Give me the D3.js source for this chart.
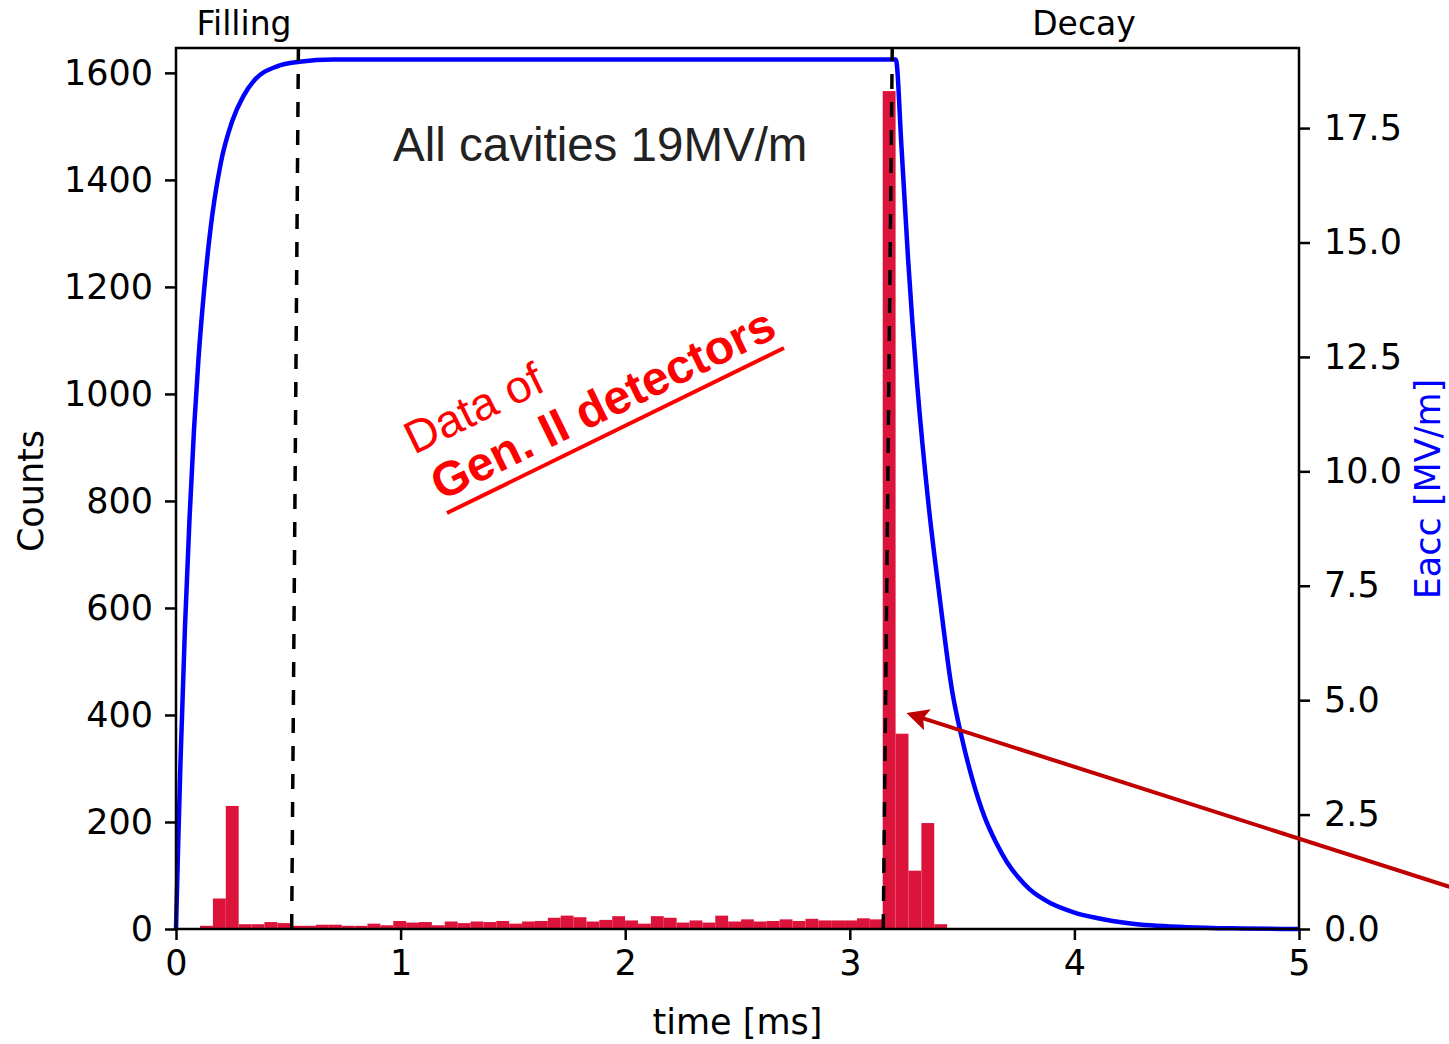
<!DOCTYPE html>
<html>
<head>
<meta charset="utf-8">
<script src="https://cdn.jsdelivr.net/npm/d3@7"></script>
<style>
  body { margin:0; background:#fff; }
  svg { display:block; }
</style>
</head>
<body>
<div id="chart"></div>
<script>
// Histogram counts (Gen. II detectors), equal-width bins starting at binStart
const binStart = 0.107;   // ms
const binWidth = 0.05735; // ms
const counts = [6,57,230,9,9,13,11,6,6,8,8,6,6,10,7,15,12,13,7,14,11,14,13,15,10,14,15,21,25,22,
  14,17,24,16,10,24,21,12,16,12,25,14,18,14,15,18,15,19,16,16,16,20,18,1566,365,109,198,9];

// Eacc curve: time [ms] / field [MV/m]
const eaccT = [0,0.01,0.02,0.04,0.06,0.08,0.10,0.125,0.15,0.20,0.25,0.30,0.35,0.45,0.55,0.70,1.5,2.5,3.205,
  3.23,3.26,3.30,3.35,3.40,3.455,3.50,3.55,3.60,3.65,3.70,3.75,3.80,3.90,4.0,4.1,4.25,4.5,4.75,5.0];
const eaccV = [0,1.9,3.65,6.6,8.95,10.9,12.45,13.95,15.15,16.75,17.65,18.2,18.55,18.85,18.95,19.0,19.0,19.0,19.0,
  17.1,14.6,11.9,9.3,7.25,5.22,4.15,3.2,2.45,1.9,1.46,1.13,0.87,0.55,0.36,0.24,0.12,0.04,0.012,0.0];

const leftTicks = [0,200,400,600,800,1000,1200,1400,1600];
const rightTicks = [0,2.5,5,7.5,10,12.5,15,17.5];
const xTicks = [0,1,2,3,4,5];

// dashed phase markers (bottom t, top t) - drawn slightly slanted as in the figure
const phaseLines = [[0.515,0.545],[3.149,3.189]];
const arrowFrom = [5.67, 79], arrowTo = [3.271, 401];

const W = 1449, H = 1044;
const m = {left:176, right:150, top:48, bottom:115};

const svg = d3.select('#chart').append('svg').attr('width',W).attr('height',H);

const x = d3.scaleLinear().domain([0,5]).range([m.left, W-m.right]);
const y = d3.scaleLinear().domain([0,1646.5]).range([H-m.bottom, m.top]);
const y2 = d3.scaleLinear().domain([0,19.25]).range([H-m.bottom, m.top]);

const font = 'DejaVu Sans, sans-serif';

// histogram bars
svg.append('g').selectAll('rect').data(counts).join('rect')
  .attr('x', (d,i)=>x(binStart + i*binWidth))
  .attr('width', (d,i)=>x(binStart + (i+1)*binWidth) - x(binStart + i*binWidth))
  .attr('y', d=>y(d))
  .attr('height', d=>y(0)-y(d))
  .attr('fill','#dc143c');

// Eacc curve
const pts = eaccT.map((t,i)=>[t, eaccV[i]]);
svg.append('path').datum(pts)
  .attr('d', d3.line().x(d=>x(d[0])).y(d=>y2(d[1])).curve(d3.curveMonotoneX))
  .attr('fill','none').attr('stroke','#0000ff').attr('stroke-width',4.5);

// phase lines
svg.append('g').selectAll('line').data(phaseLines).join('line')
  .attr('x1', d=>x(d[0])).attr('y1', y(0))
  .attr('x2', d=>x(d[1])).attr('y2', m.top)
  .attr('stroke','#000').attr('stroke-width',3.5).attr('stroke-dasharray','15,13');

// frame
svg.append('rect').attr('x',m.left).attr('y',m.top)
  .attr('width', W-m.right-m.left).attr('height', H-m.bottom-m.top)
  .attr('fill','none').attr('stroke','#000').attr('stroke-width',2.5);

// axes
function styleAxis(g){
  g.select('.domain').remove();
  g.selectAll('.tick line').attr('stroke','#000').attr('stroke-width',2.5);
  g.selectAll('.tick text').attr('font-family',font).attr('font-size',35).attr('fill','#000');
}
svg.append('g').attr('transform',`translate(${m.left},0)`)
  .call(d3.axisLeft(y).tickValues(leftTicks).tickSize(11).tickPadding(12).tickFormat(d3.format('d')))
  .call(styleAxis);
svg.append('g').attr('transform',`translate(${W-m.right},0)`)
  .call(d3.axisRight(y2).tickValues(rightTicks).tickSize(11).tickPadding(14).tickFormat(d3.format('.1f')))
  .call(styleAxis);
svg.append('g').attr('transform',`translate(0,${H-m.bottom})`)
  .call(d3.axisBottom(x).tickValues(xTicks).tickSize(11).tickPadding(10).tickFormat(d3.format('d')))
  .call(styleAxis);

// axis labels
svg.append('text').attr('x', x(2.5)).attr('y', 1034).attr('text-anchor','middle')
  .attr('font-family',font).attr('font-size',35).text('time [ms]');
svg.append('text').attr('transform','translate(43,491) rotate(-90)').attr('text-anchor','middle')
  .attr('font-family',font).attr('font-size',35).text('Counts');
svg.append('text').attr('transform','translate(1440,489) rotate(-90)').attr('text-anchor','middle')
  .attr('font-family',font).attr('font-size',35).attr('fill','#0000ff').text('Eacc [MV/m]');

// phase titles
svg.append('text').attr('x',244).attr('y',35).attr('text-anchor','middle')
  .attr('font-family',font).attr('font-size',33).text('Filling');
svg.append('text').attr('x',1084).attr('y',35).attr('text-anchor','middle')
  .attr('font-family',font).attr('font-size',33).text('Decay');

svg.append('text').attr('x',393).attr('y',161)
  .attr('font-family','Liberation Sans, Arial, sans-serif').attr('font-size',47.5).attr('fill','#222')
  .text('All cavities 19MV/m');

// red annotation
const ann = svg.append('g').attr('fill','#ff0000').attr('font-family','Liberation Sans, Arial, sans-serif');
ann.append('text').attr('transform','translate(414,455) rotate(-26)')
  .attr('font-size',46).text('Data of');
ann.append('text').attr('transform','translate(441,501) rotate(-26)')
  .attr('font-size',48).attr('font-weight','bold').text('Gen. II detectors');
svg.append('line').attr('x1',447).attr('y1',513).attr('x2',784).attr('y2',348)
  .attr('stroke','#ff0000').attr('stroke-width',4);

// arrow
const defs = svg.append('defs');
defs.append('marker').attr('id','ah').attr('viewBox','0 0 10 10').attr('refX',8).attr('refY',5)
  .attr('markerWidth',5.5).attr('markerHeight',5.5).attr('orient','auto-start-reverse')
  .attr('markerUnits','strokeWidth')
  .append('path').attr('d','M0,0 L10,5 L0,10 L2,5 z').attr('fill','#c00000');
svg.append('line')
  .attr('x1', x(arrowFrom[0])).attr('y1', y(arrowFrom[1]))
  .attr('x2', x(arrowTo[0])).attr('y2', y(arrowTo[1]))
  .attr('stroke','#c00000').attr('stroke-width',4).attr('marker-end','url(#ah)');
</script>
</body>
</html>
